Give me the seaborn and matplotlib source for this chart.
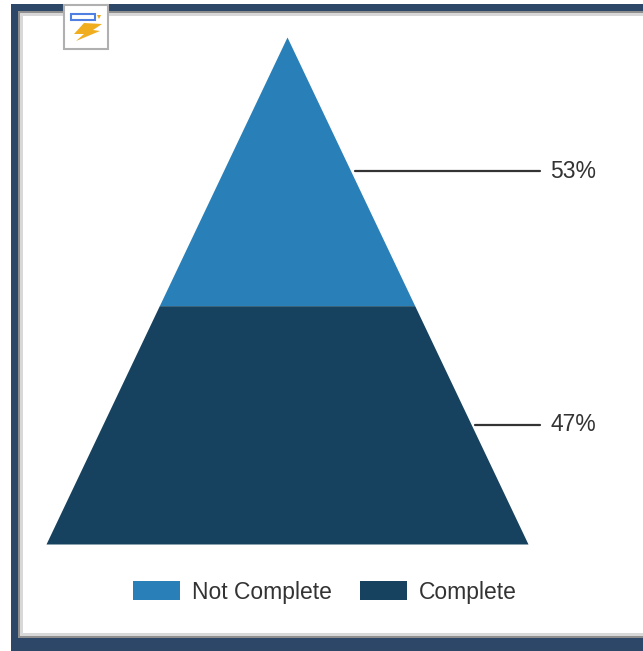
import matplotlib
matplotlib.use("Agg")
import matplotlib.pyplot as plt
from matplotlib.patches import Rectangle, Polygon
import numpy as np
import pandas as pd
import seaborn as sns

categories = ["Not Complete", "Complete"]
values = [53, 47]
labels = ["53%", "47%"]
colors = ["#2980b9", "#16425f"]

W, H = 643, 651
sns.set_theme(style="white")
plt.rcParams["font.family"] = ["Liberation Sans", "DejaVu Sans"]
fig = plt.figure(figsize=(W / 100, H / 100), dpi=100, facecolor="white")


def px_rect(x0, y0, x1, y1, **kw):
    fig.add_artist(Rectangle((x0 / W, 1 - y1 / H), (x1 - x0) / W, (y1 - y0) / H,
                             transform=fig.transFigure, linewidth=kw.pop("lw", 0), **kw))


# dashboard frame
px_rect(11, 4, 643, 651, facecolor="#2c4767")
px_rect(18, 11, 643, 638, facecolor="#8f8f8f")
px_rect(20, 13, 643, 636, facecolor="#d8d8d8")
px_rect(23, 16, 643, 633, facecolor="white")

# smart-tag icon
px_rect(64, 5, 108, 49, facecolor="white", edgecolor="#b0b0b0", lw=1.5)
px_rect(71, 14, 95, 20, facecolor="white", edgecolor="#4f7fe0", lw=1.5)
fig.add_artist(Polygon([(97 / W, 1 - 15 / H), (101 / W, 1 - 15 / H), (99 / W, 1 - 19 / H)],
                       transform=fig.transFigure, facecolor="#eda91c", linewidth=0))
bolt = [(84, 23), (102, 24), (93, 30), (100, 31), (76, 41), (84, 34), (74, 34)]
fig.add_artist(Polygon([(x / W, 1 - y / H) for x, y in bolt],
                       transform=fig.transFigure, facecolor="#f0ae1e", linewidth=0))

# pyramid axes: width at base is 1, height is cumulative percent
ax = fig.add_axes([46 / W, 1 - 544 / H, (528 - 46) / W, (544 - 37) / H], zorder=5)
ax.set_xlim(-0.5, 0.5)
ax.set_ylim(0, sum(values))
ax.axis("off")
ax.patch.set_alpha(0)

total = sum(values)
half = lambda y: 0.5 * (total - y) / total
top = total
handles = []
leader_end = 0.525
for cat, val, lab, col in zip(categories, values, labels, colors):
    bottom = top - val
    ys = np.array([bottom, top])
    h = ax.fill_betweenx(ys, -half(ys), half(ys), color=col, linewidth=0, label=cat)
    handles.append(h)
    mid = (bottom + top) / 2
    df = pd.DataFrame({"x": [half(mid) + 0.008, leader_end], "y": [mid, mid]})
    sns.lineplot(data=df, x="x", y="y", ax=ax, color="#333333", linewidth=1.6,
                 legend=False, clip_on=False, estimator=None, sort=False)
    ax.text(leader_end + 0.021, mid, lab, fontsize=16.5, color="#333333",
            va="center", ha="left", clip_on=False)
    top = bottom

leg = fig.legend(handles=handles, labels=categories, ncol=2, frameon=False,
                 loc="center", bbox_to_anchor=(325 / W, 1 - 592 / H),
                 fontsize=16.5, labelcolor="#333333", handlelength=2.05, handleheight=0.9,
                 handletextpad=0.5, columnspacing=1.25, borderpad=0)
leg.set_zorder(6)

fig.savefig("out.png", dpi=100)
